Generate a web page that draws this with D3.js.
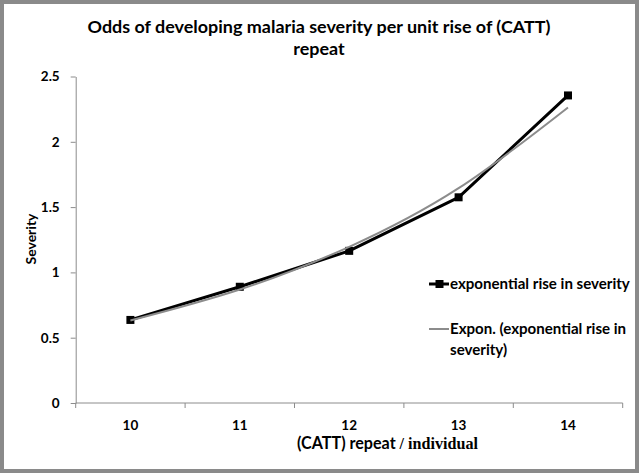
<!DOCTYPE html>
<html><head><meta charset="utf-8">
<script src="https://cdn.jsdelivr.net/npm/d3@7"></script>
<style>body{margin:0;background:#fff} svg{display:block}</style></head>
<body><svg id="c" width="639" height="473"></svg>
<script>
const categories = ["10", "11", "12", "13", "14"];
const severity = [0.636, 0.89, 1.165, 1.575, 2.355];
const trend = [0.632, 0.869, 1.196, 1.645, 2.263];
const yTicks = [0, 0.5, 1, 1.5, 2, 2.5];
const titleLines = ["Odds of developing malaria severity per unit rise of (CATT)", "repeat"];
const seriesName = "exponential rise in severity";
const trendName = ["Expon. (exponential rise in", "severity)"];
const xTitleSans = "(CATT) repeat ";
const xTitleSerif = "/ individual";
const yTitle = "Severity";

const SANS = "Lato, 'Open Sans', sans-serif";
const SERIF = "'Liberation Serif', 'DejaVu Serif', serif";
const W = 639, H = 473;
const svg = d3.select("#c");
svg.append("rect").attr("width", W).attr("height", H).attr("fill", "#fff");

function fit(t, w) {
  const cur = parseFloat(t.attr("font-size"));
  const len = t.node().getComputedTextLength();
  const fs = cur * w / len;
  t.attr("font-size", fs);
  return fs;
}

const m = {l: 75.7, r: 622.7, t: 76.5, b: 403};
const x = d3.scaleBand().domain(categories).range([m.l, m.r]);
const y = d3.scaleLinear().domain([0, 2.5]).range([m.b, m.t]);
const cx = c => x(c) + x.bandwidth() / 2;

// Title
const t1 = svg.append("text").attr("x", 319).attr("y", 32.5).attr("text-anchor", "middle")
  .attr("font-family", SANS).attr("font-weight", "bold").attr("font-size", 17).attr("fill", "#000")
  .text(titleLines[0]);
const tfs = fit(t1, 463);
svg.append("text").attr("x", 319).attr("y", 54.5).attr("text-anchor", "middle")
  .attr("font-family", SANS).attr("font-weight", "bold").attr("font-size", tfs).attr("fill", "#000")
  .text(titleLines[1]);

// Y axis
const yAxis = svg.append("g").attr("transform", `translate(${m.l},0)`)
  .call(d3.axisLeft(y).tickValues(yTicks).tickSize(5).tickSizeOuter(0).tickPadding(11).tickFormat(d => String(d)));
yAxis.select(".domain").attr("stroke", "#8c8c8c");
yAxis.selectAll(".tick line").attr("stroke", "#8c8c8c");
yAxis.selectAll(".tick text").attr("font-family", SANS).attr("font-weight", "bold")
  .attr("font-size", 13.5).attr("fill", "#000");

// X axis
const xg = svg.append("g");
xg.append("line").attr("x1", m.l).attr("x2", m.r).attr("y1", m.b).attr("y2", m.b)
  .attr("stroke", "#8c8c8c");
const bounds = categories.map(c => x(c)).concat([m.r]);
xg.selectAll("line.tk").data(bounds).join("line").attr("class", "tk")
  .attr("x1", d => d).attr("x2", d => d).attr("y1", m.b).attr("y2", m.b + 5)
  .attr("stroke", "#8c8c8c");
xg.selectAll("text.tl").data(categories).join("text").attr("class", "tl")
  .attr("x", d => cx(d)).attr("y", 429.5).attr("text-anchor", "middle")
  .attr("font-family", SANS).attr("font-weight", "bold").attr("font-size", 13.5).attr("fill", "#000")
  .text(d => d);

// X title
const xt = svg.append("text").attr("x", 297).attr("y", 449)
  .attr("font-weight", "bold").attr("font-size", 13.5).attr("fill", "#000");
xt.append("tspan").attr("font-family", SANS).text(xTitleSans);
xt.append("tspan").attr("font-family", SERIF).text(xTitleSerif);
fit(xt, 181);

// Y title
svg.append("text").attr("transform", "translate(36,239) rotate(-90)")
  .attr("text-anchor", "middle").attr("font-family", SANS).attr("font-weight", "bold")
  .attr("font-size", 14).attr("fill", "#000").text(yTitle);

// Series line
const line = d3.line().x((d, i) => cx(categories[i])).y(d => y(d));
svg.append("path").datum(severity).attr("d", line).attr("fill", "none")
  .attr("stroke", "#000").attr("stroke-width", 3).attr("stroke-linejoin", "round");
svg.selectAll("rect.mk").data(severity).join("rect").attr("class", "mk")
  .attr("x", (d, i) => cx(categories[i]) - 4).attr("y", d => y(d) - 4)
  .attr("width", 8).attr("height", 8).attr("fill", "#000");

// Trend line
const tline = d3.line().x((d, i) => cx(categories[i])).y(d => y(d)).curve(d3.curveNatural);
svg.append("path").datum(trend).attr("d", tline).attr("fill", "none")
  .attr("stroke", "#8c8c8c").attr("stroke-width", 2);

// Legend
const lg = svg.append("g");
lg.append("line").attr("x1", 429).attr("x2", 449).attr("y1", 284).attr("y2", 284)
  .attr("stroke", "#000").attr("stroke-width", 3);
lg.append("rect").attr("x", 435.5).attr("y", 280).attr("width", 8).attr("height", 8).attr("fill", "#000");
const l1 = lg.append("text").attr("x", 450).attr("y", 289).attr("font-family", SANS)
  .attr("font-weight", "bold").attr("font-size", 13).attr("fill", "#000").text(seriesName);
const lfs = fit(l1, 180);
lg.append("line").attr("x1", 429).attr("x2", 449).attr("y1", 329).attr("y2", 329)
  .attr("stroke", "#8c8c8c").attr("stroke-width", 2);
trendName.forEach((s, i) => {
  lg.append("text").attr("x", 450).attr("y", 334 + i * 21).attr("font-family", SANS)
    .attr("font-weight", "bold").attr("font-size", lfs).attr("fill", "#000").text(s);
});

// Frame
svg.append("rect").attr("x", 2).attr("y", 2).attr("width", W - 4).attr("height", H - 4)
  .attr("fill", "none").attr("stroke", "#8a8a8a").attr("stroke-width", 4);
</script>
</body></html>
